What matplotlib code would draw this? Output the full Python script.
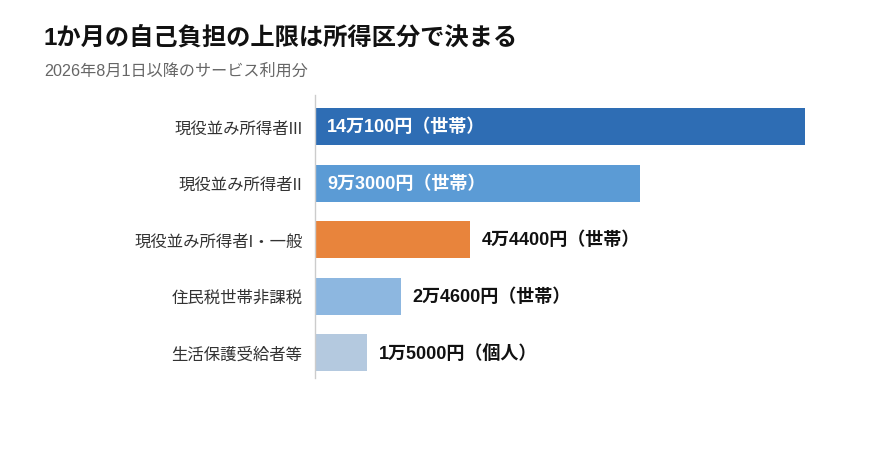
import matplotlib
matplotlib.use("Agg")
import matplotlib.pyplot as plt

plt.rcParams['font.family'] = ['Liberation Sans', 'Noto Sans CJK JP', 'DejaVu Sans']

categories = ['現役並み所得者III', '現役並み所得者II', '現役並み所得者I・一般', '住民税世帯非課税', '生活保護受給者等']
values = [140100, 93000, 44400, 24600, 15000]
labels = ['14万100円（世帯）', '9万3000円（世帯）', '4万4400円（世帯）', '2万4600円（世帯）', '1万5000円（個人）']
colors = ['#2E6DB4', '#5B9BD5', '#E8843C', '#8DB7E0', '#B4C9DF']
inside = [True, True, False, False, False]

W, H = 870, 456
fig = plt.figure(figsize=(W / 100, H / 100), dpi=100)
ax = fig.add_axes([315 / W, 1 - 379 / H, 490 / W, 283 / H])

y = list(range(len(categories)))
ax.barh(y, values, height=0.655, color=colors)
ax.set_xlim(0, 140100)
ax.set_ylim(4.45, -0.56)

ax.set_yticks(y)
ax.set_yticklabels(categories, fontsize=11.8, color='#333333')
ax.tick_params(axis='y', length=0, pad=9)
ax.set_xticks([])
for s in ['top', 'right', 'bottom']:
    ax.spines[s].set_visible(False)
ax.spines['left'].set_color('#cccccc')
ax.spines['left'].set_linewidth(1)

px = 140100 / 490
for i, (v, lab, inn) in enumerate(zip(values, labels, inside)):
    if inn:
        ax.text(12 * px, i, lab, va='center', ha='left', fontsize=13,
                fontweight='bold', color='white')
    else:
        ax.text(v + 11 * px, i, lab, va='center', ha='left', fontsize=13,
                fontweight='bold', color='#111111', clip_on=False)

fig.text(44 / W, 1 - 38 / H, '1か月の自己負担の上限は所得区分で決まる',
         fontsize=17.5, fontweight='bold', color='#111111', va='center', ha='left')
fig.text(44 / W, 1 - 71 / H, '2026年8月1日以降のサービス利用分',
         fontsize=11.6, color='#666666', va='center', ha='left')

fig.savefig('out.png', dpi=100, facecolor='white')
